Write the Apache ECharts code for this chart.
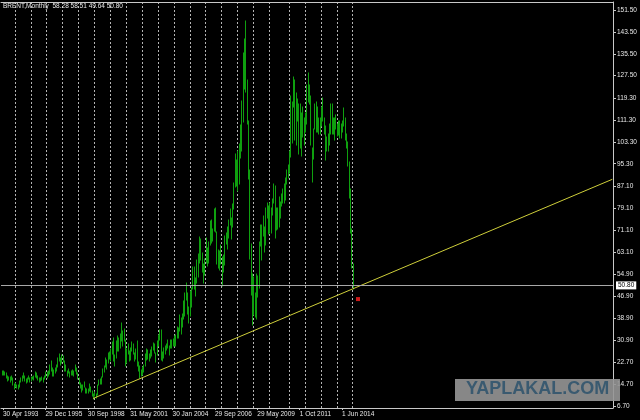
<!DOCTYPE html>
<html><head><meta charset="utf-8">
<script src="https://cdn.jsdelivr.net/npm/echarts@6/dist/echarts.min.js"></script>
<style>html,body{margin:0;padding:0;background:#000}#c{width:640px;height:420px}</style>
</head><body><div id="c"></div><script>
// ---- data ----
const symbolName = 'BRENT';
const timeframe = 'Monthly';
const lastBar = { open: 58.28, high: 58.51, low: 49.64, close: 50.80 };

// monthly bars from Mar 1993 to Jan 2015 (history has 3 duplicated bars in late 2010)
const firstBar = [1993, 3];
const lastBarMonth = [2015, 1];
const duplicatedBars = ['2010-10', '2010-11', '2010-12'];
const totalSlots = 462; // bars + empty future space on the chart

const barLow = [
  18.2, 18.2, 18.0, 16.9, 16.0, 16.1, 15.6, 16.2, 14.3, 13.1,                       // 1993
  13.5, 13.2, 13.1, 13.8, 15.4, 15.8, 16.8, 15.8, 15.2, 15.6, 16.4, 15.4,           // 1994
  15.9, 16.4, 16.2, 17.4, 16.8, 16.2, 15.4, 15.8, 16.2, 15.6, 16.4, 17.2,           // 1995
  16.8, 17.6, 18.4, 19.4, 17.8, 17.8, 18.8, 19.6, 21.0, 23.0, 21.8, 22.6,           // 1996
  22.8, 19.6, 19.6, 17.6, 18.6, 17.4, 18.0, 18.2, 17.8, 19.6, 18.4, 16.6,           // 1997
  14.6, 13.4, 11.8, 12.6, 13.6, 11.6, 11.6, 11.4, 12.2, 11.8, 10.4, 9.4,            // 1998
  10.2, 9.8, 10.6, 14.2, 14.6, 14.8, 17.2, 19.2, 20.8, 20.2, 22.6, 23.8,            // 1999
  23.0, 25.6, 23.2, 21.4, 24.4, 26.8, 26.8, 28.0, 30.6, 28.6, 30.4, 21.4,           // 2000
  22.6, 25.6, 23.2, 23.6, 26.8, 25.6, 23.0, 23.8, 21.4, 19.4, 16.8, 17.6,           // 2001
  18.0, 19.0, 21.4, 23.6, 24.0, 23.0, 24.4, 25.0, 27.2, 26.0, 22.8, 25.2,           // 2002
  28.6, 31.0, 23.6, 23.2, 24.2, 25.6, 27.2, 28.0, 25.2, 27.8, 27.8, 28.6,           // 2003
  28.8, 28.8, 31.4, 31.4, 34.0, 33.2, 35.6, 38.6, 39.6, 45.6, 40.2, 37.2,           // 2004
  39.6, 43.0, 49.4, 49.6, 46.8, 51.6, 54.0, 59.0, 60.0, 55.6, 51.6, 54.6,           // 2005
  59.0, 57.8, 59.0, 65.6, 66.4, 67.0, 70.8, 70.4, 58.6, 57.0, 56.6, 58.6,           // 2006
  50.6, 55.6, 58.4, 65.8, 64.0, 68.0, 72.8, 67.6, 72.0, 78.6, 86.8, 87.2,           // 2007
  85.4, 87.8, 97.4, 99.8, 110.6, 122.6, 121.6, 110.0, 89.6, 60.4, 47.2, 36.2,       // 2008
  40.0, 39.4, 38.4, 46.6, 50.0, 65.2, 60.0, 69.0, 63.0, 65.6, 75.6, 69.6,           // 2009
  70.0, 70.0, 76.6, 81.0, 68.0, 71.0, 71.4, 72.0, 75.6, 80.0, 81.0, 81.0, 82.0, 88.0, 90.0, // 2010
  92.0, 97.8, 103.0, 116.0, 104.0, 102.0, 111.0, 99.0, 101.0, 98.0, 105.0, 102.0,   // 2011
  107.0, 110.0, 118.0, 117.0, 102.0, 88.5, 97.0, 108.0, 107.0, 107.0, 106.0, 106.0, // 2012
  109.0, 111.0, 106.0, 96.8, 100.0, 100.0, 102.0, 106.0, 106.0, 106.0, 104.0, 108.0, // 2013
  105.6, 105.8, 104.7, 104.6, 107.0, 109.0, 104.0, 101.0, 94.6, 82.6, 70.0, 57.0,   // 2014
  49.64                                                                              // 2015
];
const barHigh = [
  19.6, 19.4, 19.2, 18.6, 17.6, 17.4, 17.2, 17.8, 16.8, 14.6,                       // 1993
  15.0, 14.4, 14.2, 15.8, 16.8, 17.6, 18.6, 17.6, 16.6, 17.0, 17.8, 16.8,           // 1994
  17.4, 17.4, 17.6, 19.0, 18.6, 17.6, 16.8, 16.8, 17.4, 16.8, 17.6, 19.2,           // 1995
  19.2, 19.6, 21.8, 23.0, 20.6, 19.8, 20.6, 21.6, 24.2, 25.6, 24.4, 25.4,           // 1996
  25.0, 23.0, 21.6, 19.6, 20.2, 19.0, 19.6, 19.8, 19.6, 21.8, 20.6, 18.6,           // 1997
  16.8, 15.2, 14.4, 14.2, 15.4, 13.4, 12.8, 12.8, 14.6, 13.6, 12.2, 11.0,           // 1998
  12.0, 11.0, 14.4, 16.2, 16.4, 17.2, 20.4, 21.4, 24.2, 23.4, 26.2, 26.6,           // 1999
  27.4, 30.0, 31.6, 25.4, 30.4, 32.4, 31.4, 33.2, 37.2, 34.0, 34.8, 31.0,           // 2000
  27.6, 29.4, 26.8, 28.0, 30.0, 29.4, 26.2, 27.6, 30.4, 22.8, 21.2, 20.0,           // 2001
  21.0, 21.8, 25.8, 27.6, 27.0, 25.6, 27.2, 28.4, 29.6, 29.4, 26.2, 30.4,           // 2002
  32.8, 34.6, 34.4, 26.6, 27.8, 28.8, 29.4, 30.8, 28.8, 31.0, 30.8, 31.2,           // 2003
  32.2, 32.6, 35.6, 35.4, 40.0, 39.0, 40.4, 45.2, 48.0, 51.8, 48.0, 43.0,           // 2004
  48.6, 50.0, 57.4, 57.6, 53.6, 60.2, 62.2, 68.6, 67.6, 62.8, 58.6, 60.6,           // 2005
  68.2, 64.6, 66.6, 74.4, 74.6, 71.6, 78.6, 79.0, 70.4, 63.6, 63.2, 65.6,           // 2006
  61.2, 62.0, 68.8, 70.0, 72.2, 74.6, 78.8, 75.6, 80.4, 88.2, 99.0, 96.8,           // 2007
  100.0, 102.4, 109.6, 118.4, 135.6, 141.0, 147.5, 126.0, 111.0, 93.0, 66.0, 55.0,  // 2008
  54.0, 48.0, 55.0, 54.4, 66.8, 72.8, 73.0, 76.0, 72.0, 79.0, 81.0, 80.0,           // 2009
  81.0, 79.0, 82.4, 88.0, 87.0, 79.0, 79.0, 83.0, 81.2, 84.4, 86.0, 88.0, 90.0, 93.0, 95.0, // 2010
  100.0, 120.0, 118.0, 127.0, 126.0, 121.0, 119.0, 117.0, 117.0, 114.0, 116.0, 112.0, // 2011
  114.0, 124.0, 128.4, 124.0, 120.0, 101.0, 108.0, 117.0, 118.0, 116.0, 112.0, 112.0, // 2012
  116.0, 119.2, 112.0, 109.0, 105.0, 106.0, 110.0, 117.3, 117.3, 112.0, 112.0, 113.0, // 2013
  110.0, 111.0, 111.0, 110.0, 111.0, 115.7, 112.0, 106.0, 103.2, 95.8, 86.0, 71.3,  // 2014
  58.51                                                                              // 2015
];

const xLabelText = ['30 Apr 1993', '29 Dec 1995', '30 Sep 1998', '31 May 2001', '30 Jan 2004',
  '29 Sep 2006', '29 May 2009', '1 Oct 2011', '1 Jun 2014'];
const xLabelFirstBar = 1;
const xLabelStep = 32;

const yTickValues = [6.70, 14.70, 22.70, 30.90, 38.90, 46.90, 54.90, 63.10, 71.10, 79.10,
  87.10, 95.30, 103.30, 111.30, 119.30, 127.50, 135.50, 143.50, 151.50];
const yMin = 5.97, yMax = 154.43;

// trend line: from the Dec 1998 low, extended to the right edge
const trendStart = ['1998-12', 9.45];
const trendEndValue = 89.6;
// red marker object
const redMarker = { slot: 269, value: 45.8 };

// ---- build ----
const categories = [];
for (let y = firstBar[0]; y <= lastBarMonth[0]; y++) {
  for (let m = 1; m <= 12; m++) {
    if (y === firstBar[0] && m < firstBar[1]) continue;
    if (y === lastBarMonth[0] && m > lastBarMonth[1]) break;
    const key = y + '-' + String(m).padStart(2, '0');
    categories.push(key);
    if (duplicatedBars.includes(key)) categories.push(key + 'b');
  }
}
const barCount = categories.length;
for (let k = barCount; k < totalSlots; k++) categories.push('f' + k);

const labelByCat = {};
xLabelText.forEach((t, k) => { labelByCat[categories[xLabelFirstBar + k * xLabelStep]] = t; });
const isLabel = (i) => i >= xLabelFirstBar && i < barCount && (i - xLabelFirstBar) % xLabelStep === 0;
const isYearStart = (i) => i > 0 && i < barCount && categories[i].slice(0, 4) !== categories[i - 1].slice(0, 4);

const hlBars = barLow.map((lo, i) => [i, lo, barHigh[i]]);
const trendData = [[categories.indexOf(trendStart[0]), trendStart[1]], [totalSlots - 1, trendEndValue]];

const FONT = "'Liberation Sans', Arial, sans-serif";
const FS = 6.5;
const GREEN = '#0fa00f';
const FRAME = '#c8c8c8';
const TXT = '#e8e8e8';

const chart = echarts.init(document.getElementById('c'), null, { renderer: 'canvas' });
chart.setOption({
  backgroundColor: '#000',
  animation: false,
  title: {
    text: `${symbolName},${timeframe}  ${lastBar.open.toFixed(2)} ${lastBar.high.toFixed(2)} ${lastBar.low.toFixed(2)} ${lastBar.close.toFixed(2)}`,
    left: 3, top: 3, padding: 0,
    textStyle: { color: TXT, fontSize: FS, fontWeight: 'normal', fontFamily: FONT }
  },
  grid: { left: 0, right: 27, top: 2, bottom: 12, containLabel: false },
  xAxis: [{
    type: 'category', data: categories, boundaryGap: true,
    axisLine: { show: true, lineStyle: { color: FRAME, width: 1 } },
    axisTick: { show: true, alignWithLabel: true, interval: isLabel, length: 2, lineStyle: { color: FRAME } },
    axisLabel: {
      show: true, interval: isLabel, formatter: (v) => labelByCat[v] || '',
      color: TXT, fontSize: FS, fontFamily: FONT, align: 'left', margin: 3, hideOverlap: false
    },
    splitLine: { show: true, alignWithLabel: true, interval: isYearStart,
      lineStyle: { color: '#b4b4b4', width: 1, type: [2, 2] } }
  }, {
    type: 'category', data: categories, position: 'top', boundaryGap: true,
    axisLine: { show: true, lineStyle: { color: FRAME, width: 1 } },
    axisTick: { show: false }, axisLabel: { show: false }, splitLine: { show: false }
  }],
  yAxis: {
    type: 'value', position: 'right', min: yMin, max: yMax, scale: true,
    axisLine: { show: true, lineStyle: { color: FRAME, width: 1 } },
    axisTick: { show: true, length: 3, customValues: yTickValues, lineStyle: { color: FRAME } },
    axisLabel: { show: true, customValues: yTickValues, formatter: (v) => v.toFixed(2),
      color: TXT, fontSize: FS, fontFamily: FONT, margin: 4 },
    splitLine: { show: false }
  },
  series: [{
    type: 'custom', data: hlBars, encode: { x: 0, y: [1, 2] }, silent: true, clip: true,
    renderItem: (params, api) => {
      const idx = api.value(0);
      const pLow = api.coord([idx, api.value(1)]);
      const pHigh = api.coord([idx, api.value(2)]);
      const x = Math.round(pLow[0]) + 0.5;
      return { type: 'line', shape: { x1: x, y1: Math.round(pLow[1]) + 0.5, x2: x, y2: Math.round(pHigh[1]) - 0.5 },
        style: { stroke: GREEN, lineWidth: 1 } };
    },
    markLine: {
      silent: true, symbol: ['none', 'none'], animation: false,
      lineStyle: { color: '#a8a8a8', type: 'solid', width: 1 },
      label: { show: true, position: 'end', distance: 3, formatter: lastBar.close.toFixed(2),
        backgroundColor: '#fff', color: '#000', fontSize: FS, fontFamily: FONT, padding: [1, 2, 0, 2] },
      emphasis: { disabled: true },
      data: [{ yAxis: lastBar.close }]
    },
    z: 2
  }, {
    type: 'line', data: trendData, symbol: 'none', silent: true,
    lineStyle: { color: '#cfcf3a', width: 1 }, z: 3
  }, {
    type: 'scatter', data: [[redMarker.slot, redMarker.value]], symbol: 'rect', symbolSize: 4,
    itemStyle: { color: '#ff2020' }, silent: true, z: 4
  }],
  graphic: [
    { type: 'rect', shape: { x: 455, y: 379, width: 165, height: 22 },
      style: { fill: 'rgba(150,150,150,0.9)' }, z: 100 },
    { type: 'text', x: 466, y: 380,
      style: { text: 'YAPLAKAL.COM', font: "bold 18px 'Liberation Sans', Arial, sans-serif", fill: '#3a5a70' }, z: 101 }
  ]
});
</script></body></html>
